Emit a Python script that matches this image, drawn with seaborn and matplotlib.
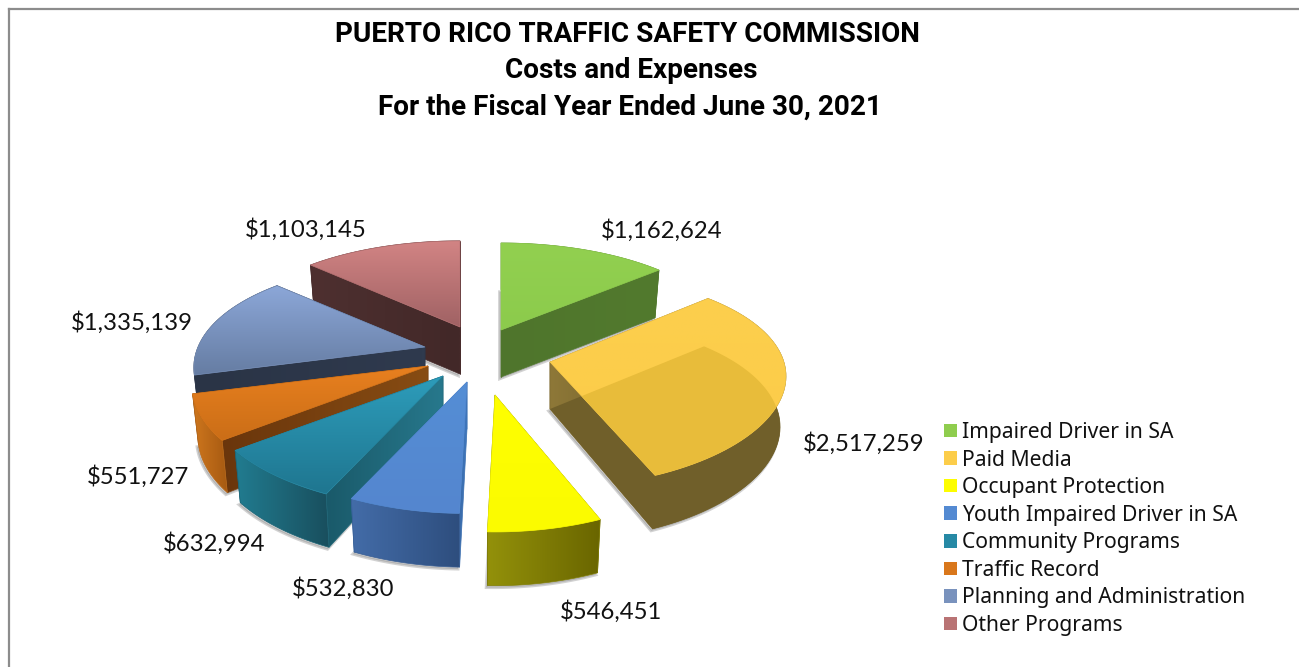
"""Puerto Rico Traffic Safety Commission costs as an exploded pseudo-3D pie."""
import matplotlib
matplotlib.use("Agg")
import matplotlib.pyplot as plt
import numpy as np
import seaborn as sns
from matplotlib.patches import Patch, Polygon

# data
categories = ["Impaired Driver in SA", "Paid Media", "Occupant Protection",
              "Youth Impaired Driver in SA", "Community Programs", "Traffic Record",
              "Planning and Administration", "Other Programs"]
costs = [1162624, 2517259, 546451, 532830, 632994, 551727, 1335139, 1103145]
title_lines = ["PUERTO RICO TRAFFIC SAFETY COMMISSION", "Costs and Expenses",
               "For the Fiscal Year Ended June 30, 2021"]

# pie look
CX, CY = 480, 350
RX, RY = 234, 106.4
KX, KY = 0.19, 0.223
explode = [(21, -20), (70, 12), (15, 45), (-13, 32), (-37, 26), (-52, 16), (-55, -3), (-20, -23)]
# x scale, y scale, upward shift of the rim
squash = [(0.99, 1.0, 0), (0.99, 0.96, 6), (0.99, 1.0, 0), (0.99, 0.96, 0),
          (1.0, 0.97, 0), (0.99, 0.97, 0), (0.97, 0.98, 0), (0.98, 0.99, 0)]
top_cols = [("#92D050", "#8CCB4C"), ("#FCCF4D", "#FCCB48"), ("#FFFF00", "#FBFB00"), ("#558ED5", "#5486CF"),
            ("#2D9CBA", "#1F7690"), ("#E8801F", "#CB6E17"), ("#8CA7D8", "#667DA3"), ("#D28484", "#A06264")]
arc_cols = [("#4F7A2C", "#4F7A2C"), ("#705F2A", "#75642C"), ("#93910A", "#6A6600"), ("#436CA8", "#2E4E7E"),
            ("#217C90", "#194F5E"), ("#CE761D", "#A65A12"), ("#2C3648", "#2C3648"), ("#4A2C2C", "#4A2C2C")]
cut_cols = [("#4F752C", "#527A2E"), ("#8E7838", "#705F2A"), ("#6E6A00", "#6E6A00"), ("#3A6AA8", "#3F78BE"),
            ("#1A5A6A", "#27788C"), ("#6A360C", "#874C13"), ("#2A3446", "#2F3A4E"), ("#4E3030", "#422828")]
label_pos = [(662, 231), (864, 444), (611, 612), (343, 589), (214, 544), (138, 477), (132, 323), (306, 230)]

sns.set_theme(style="white")
fig = plt.figure(figsize=(12.99, 6.67), dpi=100)
ax = fig.add_axes([9 / 1299, 0, 1 - 9 / 1299, 1 - 9 / 667])
zo = [2]


def rim(apex, th, scale):
    p_x = 1 + KX * np.cos(th)
    p_y = 1 + KY * np.cos(th)
    return np.column_stack([apex[0] + scale[0] * RX * np.sin(th) / p_x,
                            apex[1] - scale[2] - scale[1] * RY * np.cos(th) / p_y])


def rim_low(apex, th, scale):
    pts = rim(apex, th, scale)
    pts[:, 0] = apex[0] + 0.975 * (pts[:, 0] - apex[0])
    pts[:, 1] += 50 / (1 + 0.07 * np.cos(th))
    return pts


def fill(pts, cols, vertical=False):
    """Polygon filled with a two colour gradient."""
    zo[0] += 1
    cmap = sns.blend_palette(cols, n_colors=64, as_cmap=True)
    x0, y0 = pts.min(axis=0)
    x1, y1 = pts.max(axis=0)
    grad = np.linspace(0, 1, 64)
    grad = grad[:, None] if vertical else grad[None, :]
    patch = Polygon(pts, closed=True, facecolor="none", edgecolor="none", transform=ax.transData)
    ax.add_patch(patch)
    im = ax.imshow(grad, cmap=cmap, extent=(x0, x1, y1, y0), aspect="auto", zorder=zo[0],
                   vmin=0, vmax=1, interpolation="bilinear")
    im.set_clip_path(patch)
    ax.add_patch(Polygon(pts, closed=True, fill=False, edgecolor=sns.blend_palette(cols, 3)[1], lw=0.5, zorder=zo[0]))
    return patch


def draw_slice(i, t1, t2):
    apex = (CX + explode[i][0], CY + explode[i][1])
    th = np.linspace(t1, t2, 60)
    top = np.vstack([[apex], rim(apex, th, squash[i])])
    low = rim_low(apex, th, squash[i])
    apex_low = (apex[0], apex[1] + 47)
    bottom = np.vstack([[apex_low], low])

    # soft shadow round the foot of the slice
    zo[0] += 1
    ax.add_patch(Polygon(bottom + [-1.5, 2], closed=True, facecolor="#808080", edgecolor="#808080",
                         alpha=0.35, lw=2, zorder=zo[0]))

    cut1 = np.array([apex, top[1], low[0], apex_low])
    cut2 = np.array([apex, top[-1], low[-1], apex_low])
    arc = np.vstack([top[1:], low[::-1]])
    walls = sorted([(cut1, "cut"), (cut2, "cut"), (arc, "arc")], key=lambda w: w[0][:, 1].mean())
    for pts, kind in walls:
        fill(pts, cut_cols[i] if kind == "cut" else arc_cols[i])
    if categories[i] == "Paid Media":
        # the see-through face shows the floor behind the near wall
        zo[0] += 1
        ax.add_patch(Polygon(bottom, closed=True, facecolor=arc_cols[i][0], edgecolor="none", zorder=zo[0]))
    top_patch = fill(top, top_cols[i], vertical=True)
    if categories[i] == "Paid Media":
        zo[0] += 1
        inner = Polygon(bottom, closed=True, facecolor="#E8BC3A", edgecolor="none", zorder=zo[0])
        ax.add_patch(inner)
        inner.set_clip_path(top_patch)


fracs = np.array(costs) / np.sum(costs)
edges = np.concatenate([[0], np.cumsum(fracs)]) * 2 * np.pi
mids = (edges[:-1] + edges[1:]) / 2
for i in np.argsort(-np.cos(mids)):
    draw_slice(i, edges[i], edges[i + 1])

for cost, (lx, ly) in zip(costs, label_pos):
    ax.text(lx, ly, f"${cost:,}", ha="center", va="center", fontsize=17.2, family="Lato", color="#111111", zorder=500)

for line, tx, ty in zip(title_lines, [627, 631, 630], [34, 71, 107]):
    ax.text(tx, ty, line, ha="center", va="center", fontsize=20.1, fontweight="bold",
            family="Roboto", color="black", zorder=500)

handles = [Patch(facecolor=sns.blend_palette(c, 3)[1], edgecolor="none", label=n)
           for c, n in zip(top_cols, categories)]
ax.legend(handles=handles, loc="upper left", bbox_to_anchor=((944 - 9) / 1290, (667 - 422) / 658), frameon=False,
          handlelength=0.61, handleheight=0.61, handletextpad=0.26, labelspacing=0.31, borderpad=0, borderaxespad=0,
          prop={"family": "Noto Sans", "size": 15.2}, labelcolor="#111111")

ax.set_xlim(9, 1299)
ax.set_ylim(667, 9)
ax.set_xticks([])
ax.set_yticks([])
sns.despine(ax=ax, top=False, right=True, bottom=True)
for side in ["left", "top"]:
    ax.spines[side].set_color("#8C8C8C")
    ax.spines[side].set_linewidth(1.6)
fig.savefig("out.png", dpi=100)
